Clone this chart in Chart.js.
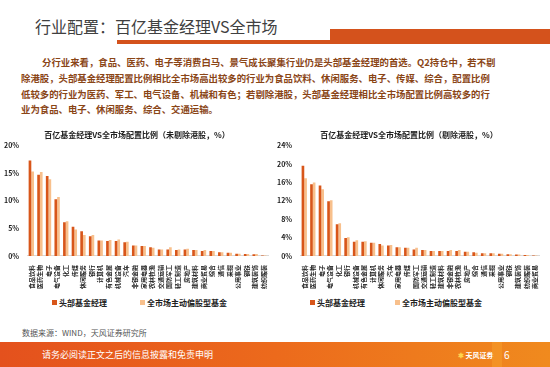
<!DOCTYPE html>
<html>
<head>
<meta charset="utf-8">
<script src="https://cdn.jsdelivr.net/npm/chart.js@4"></script>
<style>
  body { margin: 0; background: #fff; font-family: "Noto Sans CJK SC", "Noto Sans", sans-serif; }
  #page { position: relative; width: 550px; height: 367px; overflow: hidden; background: #fff; }
  .abs { position: absolute; }
  #title { left: 35px; top: 14px; font-size: 16px; color: #404040; white-space: nowrap; }
  #thinLine { left: 117px; top: 40px; width: 214px; height: 4px; background: #d4521c; }
  #thickBar { left: 330px; top: 29px; width: 220px; height: 15px; background: #d4521c; }
  .para { left: 21px; font-size: 9.4px; font-weight: bold; color: #8a4516; white-space: nowrap; line-height: 12px; }
  .legend { font-size: 8px; font-weight: bold; color: #222; white-space: nowrap; top: 297px; }
  .legend i { display: inline-block; width: 5px; height: 5px; margin-right: 2px; vertical-align: 1px; }
  #source { left: 22px; top: 327px; font-size: 8px; color: #555; white-space: nowrap; }
  #footer { left: 0; top: 342px; width: 550px; height: 25px; background: linear-gradient(90deg, #e4511d 0%, #ec6a1c 50%, #f08a1e 100%); }
  #footText { left: 42px; top: 348px; font-size: 9px; color: #fff; white-space: nowrap; }
  #logo { left: 458px; top: 350px; font-size: 7px; color: #fff; font-weight: bold; white-space: nowrap; }
  #pageBlock { left: 492px; top: 342px; width: 10px; height: 25px; background: #f59b2a; opacity: 0.6; }
  #pageNum { left: 504px; top: 347px; font-size: 10px; color: #fff; }
  canvas { position: absolute; }
</style>
</head>
<body>
<div id="page">
  <div id="title" class="abs">行业配置：百亿基金经理VS全市场</div>
  <div id="thinLine" class="abs"></div>
  <div id="thickBar" class="abs"></div>

  <div class="abs para" style="top:56px; left:42px;">分行业来看，食品、医药、电子等消费白马、景气成长聚集行业仍是头部基金经理的首选。Q2持仓中，若不剔</div>
  <div class="abs para" style="top:72px;">除港股，头部基金经理配置比例相比全市场高出较多的行业为食品饮料、休闲服务、电子、传媒、综合，配置比例</div>
  <div class="abs para" style="top:88px;">低较多的行业为医药、军工、电气设备、机械和有色；若剔除港股，头部基金经理相比全市场配置比例高较多的行</div>
  <div class="abs para" style="top:103px;">业为食品、电子、休闲服务、综合、交通运输。</div>

  <canvas id="leftChart" width="268" height="164" style="left:4px; top:126px;"></canvas>
  <canvas id="rightChart" width="266" height="164" style="left:277px; top:126px;"></canvas>

  <div class="abs legend" style="left:52px;"><i style="background:#d8561a"></i>头部基金经理</div>
  <div class="abs legend" style="left:140px;"><i style="background:#f8c08c"></i>全市场主动偏股型基金</div>
  <div class="abs legend" style="left:310px;"><i style="background:#d8561a"></i>头部基金经理</div>
  <div class="abs legend" style="left:395px;"><i style="background:#f8c08c"></i>全市场主动偏股型基金</div>

  <div id="source" class="abs">数据来源：WIND，天风证券研究所</div>

  <div id="footer" class="abs"></div>
  <div id="footText" class="abs">请务必阅读正文之后的信息披露和免责申明</div>
  <div id="logo" class="abs"><span style="color:#ffd34d">✱</span> 天风证券</div>
  <div id="pageBlock" class="abs"></div>
  <div id="pageNum" class="abs">6</div>
</div>

<script>
// series names
const seriesNames = ['头部基金经理', '全市场主动偏股型基金'];

// 未剔除港股
const leftCats = ['食品饮料', '医药生物', '电子', '电气设备', '化工', '传媒', '休闲服务', '银行', '计算机', '有色金属',
  '机械设备', '汽车', '非银金融', '家用电器', '农林牧渔', '交通运输', '国防军工', '轻工制造', '房地产', '建筑材料',
  '商业贸易', '综合', '通信', '采掘', '公用事业', '钢铁', '建筑装饰', '纺织服装'];
const leftTop = [17.3, 14.7, 14.5, 10.3, 6.1, 5.3, 4.5, 3.6, 2.8, 2.7, 2.7, 2.5, 1.9, 1.8, 1.6, 1.2, 1.2, 1.1, 1.2, 1.1,
  0.9, 0.9, 0.7, 0.6, 0.4, 0.35, 0.3, 0.1];
const leftAll = [15.3, 15.2, 13.9, 10.7, 6.3, 4.8, 3.8, 3.8, 2.8, 2.9, 3.0, 2.6, 1.9, 1.8, 1.5, 1.2, 1.6, 1.2, 1.3, 1.1,
  1.1, 0.9, 0.7, 0.6, 0.4, 0.35, 0.35, 0.1];
const leftTicks = { max: 20, step: 5 };

// 剔除港股
const rightCats = ['食品饮料', '医药生物', '电子', '电气设备', '化工', '银行', '机械设备', '有色金属', '计算机', '休闲服务',
  '汽车', '家用电器', '传媒', '国防军工', '交通运输', '轻工制造', '建筑材料', '非银金融', '农林牧渔', '房地产',
  '综合', '通信', '采掘', '公用事业', '钢铁', '建筑装饰', '纺织服装', '商业贸易'];
const rightTop = [19.6, 15.6, 15.3, 11.9, 6.9, 3.9, 3.1, 3.1, 2.9, 2.6, 2.3, 1.9, 1.8, 1.4, 1.3, 1.1, 1.1, 1.1, 1.1, 0.9,
  0.8, 0.6, 0.6, 0.5, 0.4, 0.3, 0.2, 0.1];
const rightAll = [16.9, 16.0, 14.5, 12.1, 7.1, 4.1, 3.4, 3.2, 2.9, 2.3, 2.4, 1.9, 1.8, 1.8, 1.3, 1.1, 1.1, 1.3, 1.3, 0.9,
  0.7, 0.6, 0.6, 0.5, 0.4, 0.3, 0.2, 0.1];
const rightTicks = { max: 24, step: 4 };

const DARK = '#d8561a';
const LIGHT = '#f8c08c';
const FONT = '"Noto Sans CJK SC", "Noto Sans", sans-serif';

function makeChart(id, title, cats, top, all, ticks) {
    const ctx = document.getElementById(id).getContext('2d');
    return new Chart(ctx, {
        type: 'bar',
        data: {
            labels: cats,
            datasets: [
                { label: seriesNames[0], data: top, backgroundColor: DARK, barPercentage: 1, categoryPercentage: 0.62 },
                { label: seriesNames[1], data: all, backgroundColor: LIGHT, barPercentage: 1, categoryPercentage: 0.62 }
            ]
        },
        options: {
            responsive: false,
            animation: false,
            layout: { padding: { left: 0, right: 2, top: 0, bottom: 0 } },
            plugins: {
                title: {
                    display: true,
                    text: title,
                    color: '#222',
                    font: { family: FONT, size: 8, weight: 'bold' },
                    padding: { top: 4, bottom: 6 }
                },
                legend: { display: false },
                tooltip: { enabled: false }
            },
            scales: {
                x: {
                    grid: { display: false },
                    border: { color: '#d9d9d9' },
                    ticks: {
                        autoSkip: false,
                        minRotation: 90,
                        maxRotation: 90,
                        padding: 1,
                        color: '#222',
                        font: { family: FONT, size: 6, weight: 'bold' }
                    }
                },
                y: {
                    min: 0,
                    max: ticks.max,
                    grid: { display: false },
                    border: { display: false },
                    ticks: {
                        stepSize: ticks.step,
                        padding: 0,
                        color: '#222',
                        font: { family: FONT, size: 7, weight: 'bold' },
                        callback: v => v + '%'
                    }
                }
            }
        }
    });
}

makeChart('leftChart', '百亿基金经理VS全市场配置比例（未剔除港股，%）', leftCats, leftTop, leftAll, leftTicks);
makeChart('rightChart', '百亿基金经理VS全市场配置比例（剔除港股，%）', rightCats, rightTop, rightAll, rightTicks);
</script>
</body>
</html>
